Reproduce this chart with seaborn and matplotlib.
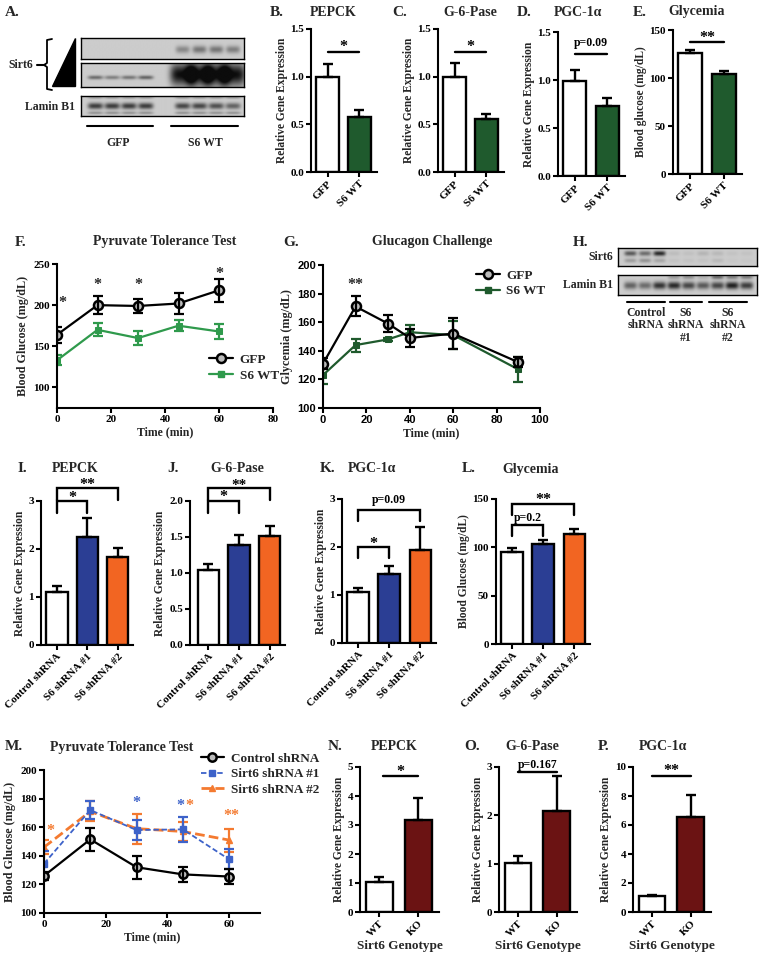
import numpy as np
import seaborn as sns
import matplotlib.pyplot as plt
from matplotlib.lines import Line2D

# ---------- data ----------
# B-E: liver overexpression
oe_groups = ['GFP', 'S6 WT']
pepck_oe = [1.00, 0.58]
pepck_oe_err = [0.13, 0.07]
g6pase_oe = [1.00, 0.56]
g6pase_oe_err = [0.14, 0.05]
pgc_oe = [0.99, 0.73]
pgc_oe_err = [0.11, 0.08]
glyc_oe = [126, 104]
glyc_oe_err = [3, 3]

# F: pyruvate tolerance test (overexpression)
ptt_time = [0, 15, 30, 45, 60]
ptt_gfp = [164, 200, 199, 202, 218]
ptt_gfp_err = [10, 11, 9, 13, 14]
ptt_s6 = [133, 170, 160, 175, 168]
ptt_s6_err = [6, 8, 8, 7, 9]

# G: glucagon challenge
gc_time = [0, 15, 30, 40, 60, 90]
gc_gfp = [131, 171, 159, 149, 152, 132]
gc_gfp_err = [4, 7, 6, 6, 11, 3.5]
gc_s6 = [123, 144, 148, 153, 151, 127]
gc_s6_err = [6, 4.5, 1, 5, 10, 8.5]

# I-L: knockdown
kd_groups = ['Control shRNA', 'S6 shRNA #1', 'S6 shRNA #2']
pepck_kd = [1.10, 2.26, 1.83]
pepck_kd_err = [0.12, 0.39, 0.20]
g6pase_kd = [1.04, 1.39, 1.52]
g6pase_kd_err = [0.09, 0.14, 0.13]
pgc_kd = [1.06, 1.44, 1.93]
pgc_kd_err = [0.08, 0.17, 0.48]
glyc_kd = [95, 103.6, 113.3]
glyc_kd_err = [4, 4, 5.5]

# M: pyruvate tolerance test (knockdown)
m_time = [0, 15, 30, 45, 60]
m_ctrl = [126, 151.5, 132, 127, 125.5]
m_ctrl_err = [3, 8, 8, 5.5, 5]
m_sh1 = [134.5, 172, 158, 158.5, 137.5]
m_sh1_err = [9, 6.5, 7, 8.5, 7]
m_sh2 = [146, 171, 159, 157, 151]
m_sh2_err = [5, 7, 10.5, 6.5, 8]
m_names = ['Control shRNA', 'Sirt6 shRNA #1', 'Sirt6 shRNA #2']

# N-P: knockout
ko_groups = ['WT', 'KO']
pepck_ko = [1.02, 3.18]
pepck_ko_err = [0.18, 0.75]
g6pase_ko = [1.01, 2.10]
g6pase_ko_err = [0.14, 0.71]
pgc_ko = [1.08, 6.53]
pgc_ko_err = [0.12, 1.52]

# western blot band intensities (0 = none, 1 = saturated)
a_sirt6_short = [0, 0, 0, 0, 0.35, 0.45, 0.45, 0.40]
a_sirt6_long = [0.50, 0.40, 0.45, 0.55, 1, 1, 1, 1]
a_lamin = [0.75, 0.75, 0.75, 0.75, 0.70, 0.70, 0.65, 0.55]
h_sirt6 = [0.60, 0.50, 0.85, 0.08, 0.06, 0.12, 0.10, 0.05, 0.05]
h_sirt6_low = [0.25, 0.30, 0.20, 0.05, 0.05, 0.05, 0.10, 0.03, 0.03]
h_lamin = [0.55, 0.50, 0.80, 0.85, 0.70, 0.60, 0.70, 0.90, 0.75]
h_lamin_up = [0, 0, 0, 0.25, 0.30, 0.15, 0.50, 0.40, 0.40]

GREEN = '#1f5a2d'
GREEN_L = '#2f9a4c'
BLUE = '#2b3e94'
ORANGE = '#f26522'
MAROON = '#6b1313'
M_BLUE = '#3d62c9'
M_ORANGE = '#f47a30'

sns.set_theme(style='ticks')
plt.rcParams['font.family'] = ['Liberation Serif', 'DejaVu Serif']
plt.rcParams['font.weight'] = 'bold'
plt.rcParams['axes.labelweight'] = 'bold'
plt.rcParams['axes.titleweight'] = 'bold'

W, H = 762, 960
fig = plt.figure(figsize=(W / 100, H / 100), dpi=100)


def box(x0, y0, x1, y1):
    return fig.add_axes([x0 / W, 1 - y1 / H, (x1 - x0) / W, (y1 - y0) / H])


def label(x, y, s, size=10, ha='center', **kw):
    fig.text(x / W, 1 - y / H, s, fontsize=size, ha=ha, va='center',
             fontweight='bold', **kw)


def style(ax, size=8):
    sns.despine(ax=ax)
    for s in ['left', 'bottom']:
        ax.spines[s].set_linewidth(1.5)
        ax.spines[s].set_color('black')
    ax.tick_params(width=1.5, length=3.5, labelsize=size, pad=1.5,
                   colors='black')


def bar_panel(rect, cats, vals, errs, colors, ylim, yticks, ylabel,
              xlim, width=0.72, xfs=8, lpad=2):
    ax = box(*rect)
    sns.barplot(x=cats, y=vals, hue=cats, palette=colors, legend=False,
                width=width, edgecolor='black', linewidth=1.7, saturation=1,
                errorbar=None, ax=ax)
    ax.errorbar(np.arange(len(cats)), vals,
                yerr=[np.zeros(len(cats)), errs], fmt='none', ecolor='black',
                elinewidth=1.7, capsize=3.5, capthick=1.7, zorder=3)
    ax.set_xlim(xlim)
    ax.set_ylim(ylim)
    ax.set_yticks(yticks)
    ax.set_xlabel('')
    ax.set_ylabel(ylabel, fontsize=8.3, labelpad=lpad)
    ax.set_xticks(range(len(cats)))
    ax.set_xticklabels(cats, rotation=45, ha='right', rotation_mode='anchor',
                       fontsize=xfs)
    style(ax)
    return ax


def sig(ax, x0, x1, y, leg, text, ty, color='black', size=11.5):
    if leg:
        ax.plot([x0, x0, x1, x1], [y - leg, y, y, y - leg], color='black',
                lw=1.7, clip_on=False, solid_joinstyle='miter')
    else:
        ax.plot([x0, x1], [y, y], color='black', lw=1.7, clip_on=False)
    ax.text((x0 + x1) / 2, ty, text, ha='center', va='center', fontsize=size,
            color=color, clip_on=False)


def blot(rect, lanes, bands):
    ax = box(*rect)
    lo, hi = lanes[0] - 0.85, lanes[-1] + 0.7
    xs = np.linspace(lo, hi, 400)
    ys = np.linspace(0, 1, 80)
    X, Y = np.meshgrid(xs, ys)
    dark = np.zeros_like(X)
    for amps, cy, wx, wy in bands:
        for pos, a in zip(lanes, amps):
            dark += a * np.exp(-np.abs((X - pos) / wx) ** 4
                               - ((Y - cy) / wy) ** 2)
    dark = np.clip(dark, 0, 1)
    img = 0.80 - dark * 0.75
    ax.imshow(img, cmap='gray', vmin=0, vmax=1, aspect='auto',
              extent=[lo, hi, 1, 0], interpolation='bilinear')
    ax.set_xticks([])
    ax.set_yticks([])
    for s in ax.spines.values():
        s.set_linewidth(1.0)
        s.set_color('black')
    return ax


# ---------- A: western blot ----------
a_lanes = np.r_[np.arange(4), np.arange(4) + 5.2]
blot((81, 38, 244, 59), a_lanes, [(a_sirt6_short, 0.55, 0.42, 0.18)])
blot((81, 63, 244, 87), a_lanes,
     [(a_sirt6_long[:4] + [0] * 4, 0.62, 0.45, 0.08),
      ([0] * 4 + a_sirt6_long[4:], 0.5, 0.75, 0.45)])
blot((81, 96, 244, 116), a_lanes,
     [(a_lamin, 0.5, 0.45, 0.16), ([0.3] * 8, 0.85, 0.45, 0.07),
      ([0.25] * 8, 0.08, 0.45, 0.06)])

ov = fig.add_axes([0, 0, 1, 1], zorder=10)
ov.set_xlim(0, W)
ov.set_ylim(H, 0)
ov.axis('off')
ov.patch.set_alpha(0)

label(5, 12, 'A.', 11, ha='left')
label(33, 65, 'Sirt6', 8.5, ha='right')
ov.plot([37, 45], [65, 65], color='black', lw=1.5)
ov.plot([52, 47, 47, 44, 47, 47, 52], [39, 40, 63, 65, 67, 89, 90],
        color='black', lw=1.3)
ov.fill([52, 75, 75], [86, 86, 38], color='black')
fig.text(69.5 / W, 1 - 68 / H, 'Exposure', rotation=90, color='white',
         fontsize=5.5, ha='center', va='center', fontweight='bold')
label(75, 107, 'Lamin B1', 8.5, ha='right')
ov.plot([87, 153], [126, 126], color='black', lw=1.5)
ov.plot([171, 238], [126, 126], color='black', lw=1.5)
label(118, 143, 'GFP', 8.5)
label(205, 143, 'S6 WT', 8.5)

# ---------- B-E ----------
oe_cols = ['white', GREEN]
xl2 = (-0.52, 1.55)
ax = bar_panel((311, 29, 377, 172), oe_groups, pepck_oe, pepck_oe_err,
               oe_cols, (0, 1.5), [0, 0.5, 1.0, 1.5],
               'Relative Gene Expression', xl2)
sig(ax, 0, 1, 1.26, 0, '*', 1.31)
label(270, 12, 'B.', 11, ha='left')
label(333, 12, 'PEPCK', 10)

ax = bar_panel((438, 29, 504, 172), oe_groups, g6pase_oe, g6pase_oe_err,
               oe_cols, (0, 1.5), [0, 0.5, 1.0, 1.5],
               'Relative Gene Expression', xl2)
sig(ax, 0, 1, 1.26, 0, '*', 1.31)
label(392, 12, 'C.', 11, ha='left')
label(470, 12, 'G-6-Pase', 10)

ax = bar_panel((558, 32, 625, 176), oe_groups, pgc_oe, pgc_oe_err,
               oe_cols, (0, 1.5), [0, 0.5, 1.0, 1.5],
               'Relative Gene Expression', xl2)
sig(ax, 0, 1, 1.27, 0, 'p=0.09', 1.39, size=8.5)
label(517, 12, 'D.', 11, ha='left')
label(578, 12, 'PGC-1α', 10)

ax = bar_panel((673, 30, 742, 174), oe_groups, glyc_oe, glyc_oe_err,
               oe_cols, (0, 150), [0, 50, 100, 150],
               'Blood glucose (mg/dL)', xl2)
sig(ax, 0, 1, 137, 0, '**', 142)
label(633, 12, 'E.', 11, ha='left')
label(697, 12, 'Glycemia', 10)

# ---------- F: PTT ----------
ax = box(57, 264, 273, 408)
sns.lineplot(x=ptt_time, y=ptt_s6, color=GREEN_L, lw=1.6, marker='s',
             markersize=4.5, markeredgecolor=GREEN_L, ax=ax)
ax.errorbar(ptt_time, ptt_s6, yerr=ptt_s6_err, fmt='none', ecolor=GREEN_L,
            elinewidth=1.6, capsize=3.5, capthick=1.6)
sns.lineplot(x=ptt_time, y=ptt_gfp, color='black', lw=1.6, marker='o',
             markersize=6.5, markerfacecolor='#bbbbbb', markeredgewidth=1.8,
             markeredgecolor='black', ax=ax)
ax.errorbar(ptt_time, ptt_gfp, yerr=ptt_gfp_err, fmt='none', ecolor='black',
            elinewidth=1.6, capsize=3.5, capthick=1.6)
for t, yv in [(2, 203), (15, 225), (30, 225), (60, 238)]:
    ax.text(t, yv, '*', ha='center', va='center', fontsize=11.5)
ax.set_xlim(0, 80)
ax.set_ylim(75, 250)
ax.set_xticks([0, 20, 40, 60, 80])
ax.set_yticks([100, 150, 200, 250])
ax.set_xlabel('Time (min)', fontsize=8.5, labelpad=2)
ax.set_ylabel('Blood Glucose (mg/dL)', fontsize=8.7, labelpad=3)
style(ax)
h_f = [Line2D([], [], color='black', lw=1.6, marker='o', markersize=6.5,
              markerfacecolor='#bbbbbb', markeredgewidth=1.8),
       Line2D([], [], color=GREEN_L, lw=1.6, marker='s', markersize=4.5)]
ax.legend(h_f, oe_groups, loc='center left', bbox_to_anchor=(0.65, 0.28),
          frameon=False, fontsize=9.5, handlelength=1.8, handletextpad=0.5,
          labelspacing=0.25)
label(15, 242, 'F.', 11, ha='left')
label(165, 242, 'Pyruvate Tolerance Test', 10)

# ---------- G: glucagon ----------
ax = box(323, 265, 540, 408)
sns.lineplot(x=gc_time, y=gc_s6, color=GREEN, lw=1.6, marker='s',
             markersize=4.5, markeredgecolor=GREEN, ax=ax)
ax.errorbar(gc_time, gc_s6, yerr=gc_s6_err, fmt='none', ecolor=GREEN,
            elinewidth=1.6, capsize=3.5, capthick=1.6)
sns.lineplot(x=gc_time, y=gc_gfp, color='black', lw=1.6, marker='o',
             markersize=6.5, markerfacecolor='#bbbbbb', markeredgewidth=1.8,
             markeredgecolor='black', ax=ax)
ax.errorbar(gc_time, gc_gfp, yerr=gc_gfp_err, fmt='none', ecolor='black',
            elinewidth=1.6, capsize=3.5, capthick=1.6)
ax.text(15, 186, '**', ha='center', va='center', fontsize=11.5)
ax.set_xlim(0, 100)
ax.set_ylim(100, 200)
ax.set_xticks([0, 20, 40, 60, 80, 100])
ax.set_yticks([100, 120, 140, 160, 180, 200])
ax.set_xlabel('Time (min)', fontsize=8.5, labelpad=2)
ax.set_ylabel('Glycemia (mg/dL)', fontsize=8.7, labelpad=3)
style(ax)
for t in ax.get_xticklabels() + ax.get_yticklabels():
    t.set_family(['Liberation Sans', 'DejaVu Sans'])
h_g = [Line2D([], [], color='black', lw=1.6, marker='o', markersize=6.5,
              markerfacecolor='#bbbbbb', markeredgewidth=1.8),
       Line2D([], [], color=GREEN, lw=1.6, marker='s', markersize=4.5)]
ax.legend(h_g, oe_groups, loc='center left', bbox_to_anchor=(0.65, 0.87),
          frameon=False, fontsize=9.5, handlelength=1.8, handletextpad=0.5,
          labelspacing=0.25)
label(283, 242, 'G.', 11, ha='left')
label(432, 242, 'Glucagon Challenge', 10)

# ---------- H: knockdown blot ----------
h_lanes = np.arange(9)
blot((618, 248, 757, 266), h_lanes,
     [(h_sirt6, 0.3, 0.42, 0.14), (h_sirt6_low, 0.7, 0.42, 0.12)])
blot((618, 275, 757, 295), h_lanes,
     [(h_lamin, 0.55, 0.45, 0.18), (h_lamin_up, 0.15, 0.42, 0.09)])
label(573, 243, 'H.', 11, ha='left')
label(613, 257, 'Sirt6', 8.5, ha='right')
label(613, 285, 'Lamin B1', 8.5, ha='right')
for x0, x1 in [(627, 665), (670, 702), (709, 747)]:
    ov.plot([x0, x1], [302, 302], color='black', lw=1.5)
for xc, s in [(646, 'Control\nshRNA'), (686, 'S6\nshRNA\n#1'),
              (728, 'S6\nshRNA\n#2')]:
    fig.text(xc / W, 1 - 307 / H, s, ha='center', va='top', fontsize=8.5,
             fontweight='bold', linespacing=1.05)

# ---------- I-L ----------
kd_cols = ['white', BLUE, ORANGE]
xl3 = (-0.52, 2.5)
ax = bar_panel((41, 501, 133, 645), kd_groups, pepck_kd, pepck_kd_err,
               kd_cols, (0, 3), [0, 1, 2, 3], 'Relative Gene Expression',
               xl3, width=0.7)
sig(ax, 0, 2, 3.27, 0.24, '**', 3.34)
sig(ax, 0, 1, 2.99, 0.24, '*', 3.06)
label(18, 469, 'I.', 11, ha='left')
label(75, 469, 'PEPCK', 10)

ax = bar_panel((190, 501, 285, 645), kd_groups, g6pase_kd, g6pase_kd_err,
               kd_cols, (0, 2), [0, 0.5, 1.0, 1.5, 2.0],
               'Relative Gene Expression', (-0.6, 2.5), width=0.7)
sig(ax, 0, 2, 2.18, 0.16, '**', 2.215, size=11)
sig(ax, 0, 1, 2.0, 0.17, '*', 2.05)
label(167, 468, 'J.', 11, ha='left')
label(237, 468, 'G-6-Pase', 10)

ax = bar_panel((342, 499, 436, 643), kd_groups, pgc_kd, pgc_kd_err,
               kd_cols, (0, 3), [0, 1, 2, 3], 'Relative Gene Expression',
               xl3, width=0.7)
sig(ax, 0, 2, 2.78, 0.23, 'p=0.09', 2.97, size=8.5)
sig(ax, 0, 1, 2.0, 0.23, '*', 2.07)
label(320, 469, 'K.', 11, ha='left')
label(372, 469, 'PGC-1α', 10)

ax = bar_panel((496, 499, 590, 644), kd_groups, glyc_kd, glyc_kd_err,
               kd_cols, (0, 150), [0, 50, 100, 150],
               'Blood Glucose (mg/dL)', xl3, width=0.7)
sig(ax, 0, 2, 145, 12, '**', 149)
sig(ax, 0, 1, 123.5, 12, 'p=0.2', 130, size=8.5)
label(462, 469, 'L.', 11, ha='left')
label(531, 469, 'Glycemia', 10)

# ---------- M: PTT knockdown ----------
ax = box(44, 770, 260, 913)
m_styles = [dict(color='black', lw=1.6, ls='-', marker='o', ms=6,
                 mfc='#bbbbbb', mew=1.8, mec='black'),
            dict(color=M_BLUE, lw=1.3, ls=(0, (3, 1.5)), marker='s', ms=4.5,
                 mfc=M_BLUE, mew=1, mec=M_BLUE),
            dict(color=M_ORANGE, lw=2.0, ls=(0, (3.5, 1.5)), marker='^',
                 ms=5, mfc=M_ORANGE, mew=1, mec=M_ORANGE)]
m_series = [(m_sh2, m_sh2_err), (m_sh1, m_sh1_err), (m_ctrl, m_ctrl_err)]
for (vals, errs), st in zip(m_series, m_styles[::-1]):
    sns.lineplot(x=m_time, y=vals, color=st['color'], lw=st['lw'],
                 linestyle=st['ls'], marker=st['marker'], markersize=st['ms'],
                 markerfacecolor=st['mfc'], markeredgewidth=st['mew'],
                 markeredgecolor=st['mec'], ax=ax)
    ax.errorbar(m_time, vals, yerr=errs, fmt='none', ecolor=st['color'],
                elinewidth=1.6, capsize=3.5, capthick=1.6)
for t, yv, s, c in [(2.2, 157, '*', M_ORANGE), (30, 177, '*', M_BLUE),
                    (44.3, 174.5, '*', M_BLUE), (47, 174.5, '*', M_ORANGE),
                    (60.7, 167.5, '**', M_ORANGE)]:
    ax.text(t, yv, s, ha='center', va='center', fontsize=11.5, color=c)
ax.set_xlim(0, 70)
ax.set_ylim(100, 200)
ax.set_xticks([0, 20, 40, 60])
ax.set_yticks([100, 120, 140, 160, 180, 200])
ax.set_xlabel('Time (min)', fontsize=8.5, labelpad=2)
ax.set_ylabel('Blood Glucose (mg/dL)', fontsize=8.7, labelpad=3)
style(ax)
h_m = [Line2D([], [], color=st['color'], lw=st['lw'], ls=st['ls'],
              marker=st['marker'], ms=st['ms'], mfc=st['mfc'], mew=st['mew'],
              mec=st['mec']) for st in m_styles]
ax.legend(h_m, m_names, loc='center left', bbox_to_anchor=(0.67, 0.97),
          frameon=False, fontsize=9.5, handlelength=1.8, handletextpad=0.5,
          labelspacing=0.25)
label(5, 747, 'M.', 11, ha='left')
label(122, 747, 'Pyruvate Tolerance Test', 10)

# ---------- N-P ----------
ko_cols = ['white', MAROON]
xlk = (-0.5, 1.53)
ax = bar_panel((360, 767, 439, 912), ko_groups, pepck_ko, pepck_ko_err,
               ko_cols, (0, 5), [0, 1, 2, 3, 4, 5], 'Relative Gene Expression',
               xlk, width=0.69)
ax.set_xlabel('Sirt6 Genotype', fontsize=9.5, labelpad=1)
sig(ax, 0.08, 1.0, 4.68, 0, '*', 4.82)
label(328, 747, 'N.', 11, ha='left')
label(394, 747, 'PEPCK', 10)

ax = bar_panel((499, 767, 577, 912), ko_groups, g6pase_ko, g6pase_ko_err,
               ko_cols, (0, 3), [0, 1, 2, 3], 'Relative Gene Expression',
               xlk, width=0.69)
ax.set_xlabel('Sirt6 Genotype', fontsize=9.5, labelpad=1)
sig(ax, 0, 1, 2.89, 0, 'p=0.167', 3.04, size=8.5)
label(464, 747, 'O.', 11, ha='left')
label(532, 747, 'G-6-Pase', 10)

ax = bar_panel((633, 767, 711, 912), ko_groups, pgc_ko, pgc_ko_err,
               ko_cols, (0, 10), [0, 2, 4, 6, 8, 10],
               'Relative Gene Expression', xlk, width=0.69)
ax.set_xlabel('Sirt6 Genotype', fontsize=9.5, labelpad=1)
sig(ax, 0, 1, 9.36, 0, '**', 9.75)
label(598, 747, 'P.', 11, ha='left')
label(663, 747, 'PGC-1α', 10)

fig.savefig('out.png', dpi=100)
